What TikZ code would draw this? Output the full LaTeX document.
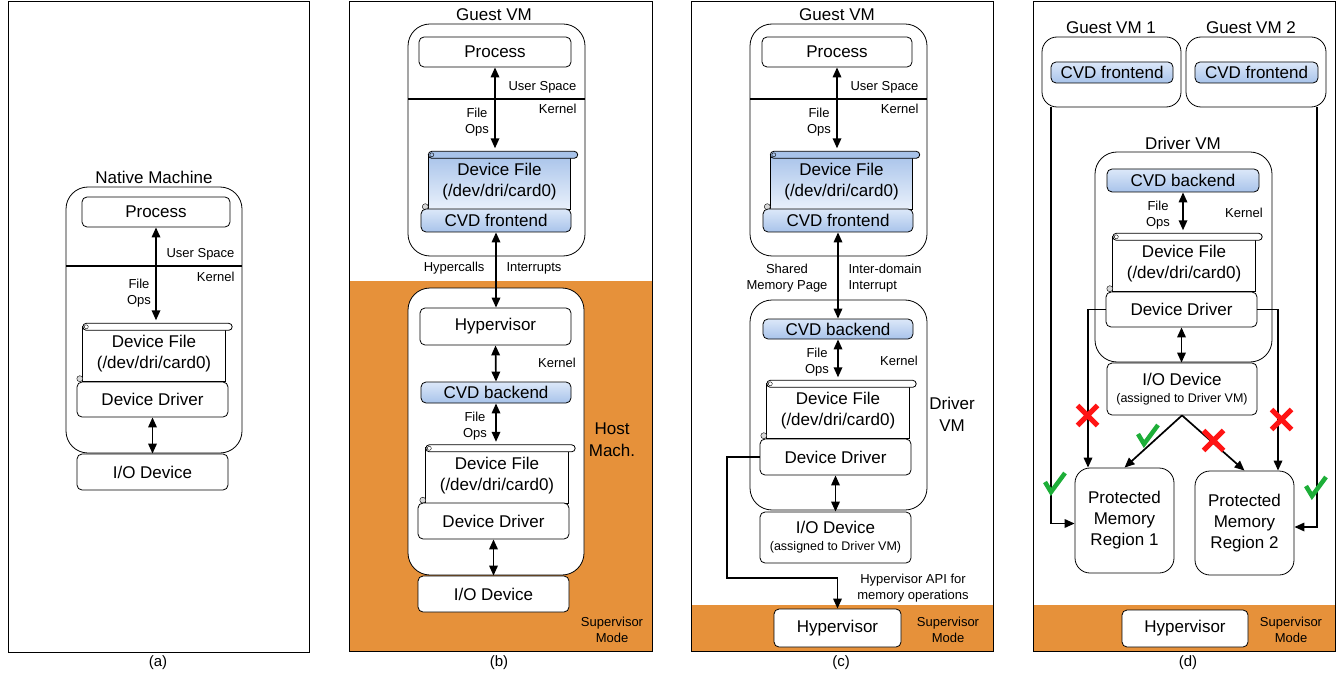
\documentclass[tikz,border=0pt]{standalone}
\usepackage{fontspec}
\setmainfont{Liberation Sans}
\usetikzlibrary{arrows.meta}
\definecolor{hostorange}{HTML}{E6913A}
\definecolor{cvdtop}{HTML}{DCE8F9}
\definecolor{cvdbot}{HTML}{A8C3EA}
\definecolor{okgreen}{HTML}{1DAE38}
\definecolor{nored}{HTML}{FF1414}

\tikzset{
  panel/.style={draw, line width=0.8pt},
  vmbox/.style={draw, fill=white, rounded corners=22pt, inner sep=0pt, line width=0.8pt},
  box/.style={draw, fill=white, rounded corners=5pt, inner sep=0pt, line width=0.8pt, align=center, font=\fontsize{17}{21}\selectfont},
  cvdbox/.style={box, top color=cvdtop, bottom color=cvdbot},
  filebody/.style={minimum width=142pt, minimum height=55pt, inner sep=0pt},
  txt/.style={align=center, font=\fontsize{17}{21}\selectfont},
  small/.style={align=center, font=\fontsize{13}{16}\selectfont},
  biarrow/.style={line width=1.7pt, {Triangle[length=10pt,width=8.5pt]}-{Triangle[length=10pt,width=8.5pt]}},
  conn/.style={line width=1.7pt, -{Triangle[length=10pt,width=8.5pt]}},
}

% scroll shaped device file: name, position, body fill, bar fill
\newcommand{\devfile}[4]{%
  \node[filebody] (#1) at #2 {};
  \draw[line width=0.8pt, #3] (#1.north west) rectangle (#1.south east);
  \draw[line width=0.8pt, #4, rounded corners=3.5pt] ([yshift=3pt]#1.north west) rectangle ([xshift=7pt,yshift=-4pt]#1.north east);
  \draw ([xshift=3.5pt,yshift=-0.5pt]#1.north west) circle (2pt);
  \draw[fill=gray!30] ([xshift=-3pt,yshift=3pt]#1.south west) circle (3pt);
  \node[txt] (#1txt) at (#1) {Device File\\(/dev/dri/card0)};
}
\newcommand{\okmark}[1]{\draw[okgreen, line width=4.5pt, shift={#1}] (-9,-2) -- (-3,8) -- (11,-11);}
\newcommand{\nomark}[1]{\draw[nored, line width=5pt, shift={#1}] (-10,-10) -- (10,10) (-10,10) -- (10,-10);}

\begin{document}
\begin{tikzpicture}[x=1pt, y=-1pt]
  \useasboundingbox (0,0) rectangle (1340,676);

  % (a) native machine
  \draw[panel] (8,1) rectangle (309,652);
  \node[txt] (anative) at (154,177) {Native Machine};
  \node[vmbox, minimum width=176pt, minimum height=266pt] (avm) at (154,320) {};
  \node[box, minimum width=148pt, minimum height=30pt] (aproc) at (156,212) {Process};
  \draw[line width=1.5pt] (66,266) -- (242,266);
  \node[small, anchor=east] (auser) at (238,254) {User Space};
  \node[small, anchor=east] (akern) at (238,277) {Kernel};
  \devfile{afile}{(154,354)}{fill=white}{fill=white}
  \node[box, minimum width=151pt, minimum height=35pt] (adrv) at (152.5,399.5) {Device Driver};
  \node[box, minimum width=151pt, minimum height=36pt] (aio) at (152.5,472) {I/O Device};
  \draw[biarrow] (aproc.south) -- ([yshift=6pt]aproc.south |- afile.north);
  \node[small] (aops) at (139,293) {File\\Ops};
  \draw[biarrow] (adrv.south) -- (aio.north);
  \node[small, font=\fontsize{15}{18}\selectfont] (acap) at (158,663) {(a)};

  % (b) host machine
  \fill[hostorange] (349,281) rectangle (652,651);
  \draw[panel] (349,1) rectangle (652,651);
  \node[txt] (bguest) at (494,15) {Guest VM};
  \node[vmbox, minimum width=177pt, minimum height=232pt] (bvm) at (496.5,140) {};
  \node[box, minimum width=152pt, minimum height=30pt] (bproc) at (495,52) {Process};
  \draw[line width=1.5pt] (408,99) -- (585,99);
  \node[small, anchor=east] (buser) at (580,87) {User Space};
  \node[small, anchor=east] (bkern) at (580,109) {Kernel};
  \devfile{bfile}{(499.5,182)}{top color=cvdbot, bottom color=cvdtop!60!white}{fill=cvdbot}
  \node[cvdbox, minimum width=150pt, minimum height=23pt] (bfront) at (496,220.5) {CVD frontend};
  \draw[biarrow] (bproc.south) -- ([yshift=6pt]bproc.south |- bfile.north);
  \node[small] (bops) at (477,122) {File\\Ops};
  \node[vmbox, minimum width=176pt, minimum height=287pt] (bhost) at (496,431.5) {};
  \node[box, minimum width=151pt, minimum height=37pt] (bhyp) at (495.5,326.5) {Hypervisor};
  \draw[biarrow] (bfront.south) -- (bfront.south |- bhyp.north);
  \node[small, anchor=east] (bcalls) at (488,268) {Hypercalls};
  \node[small, anchor=west] (bints) at (503,268) {Interrupts};
  \node[cvdbox, minimum width=150pt, minimum height=21pt] (bback) at (496,392.5) {CVD backend};
  \draw[biarrow] (bhyp.south) -- (bback.north);
  \node[small] (bkern2) at (557,363) {Kernel};
  \devfile{bfile2}{(497,475.5)}{fill=white}{fill=white}
  \draw[biarrow] (bback.south) -- ([yshift=6pt]bback.south |- bfile2.north);
  \node[small] (bops2) at (475,426) {File\\Ops};
  \node[box, minimum width=151pt, minimum height=36pt] (bdrv) at (493.5,521) {Device Driver};
  \node[box, minimum width=151pt, minimum height=36pt] (bio) at (493.5,594) {I/O Device};
  \draw[biarrow] (bdrv.south) -- (bio.north);
  \node[txt, font=\fontsize{17}{22}\selectfont] (bmach) at (612,440) {Host\\Mach.};
  \node[small, font=\fontsize{13}{15.5}\selectfont] (bsup) at (612,630) {Supervisor\\Mode};
  \node[small, font=\fontsize{15}{18}\selectfont] (bcap) at (499,663) {(b)};

  % (c) driver VM
  \fill[hostorange] (691,605) rectangle (993,651);
  \draw[panel] (691,1) rectangle (993,651);
  \node[txt] (cguest) at (837,15) {Guest VM};
  \node[vmbox, minimum width=177pt, minimum height=232pt] (cvm) at (838.5,140) {};
  \node[box, minimum width=150pt, minimum height=30pt] (cproc) at (837,52) {Process};
  \draw[line width=1.5pt] (750,99) -- (927,99);
  \node[small, anchor=east] (cuser) at (922,87) {User Space};
  \node[small, anchor=east] (ckern) at (922,109) {Kernel};
  \devfile{cfile}{(841.5,182)}{top color=cvdbot, bottom color=cvdtop!60!white}{fill=cvdbot}
  \node[cvdbox, minimum width=150pt, minimum height=23pt] (cfront) at (838,220.5) {CVD frontend};
  \draw[biarrow] (cproc.south) -- ([yshift=6pt]cproc.south |- cfile.north);
  \node[small] (cops) at (819,122) {File\\Ops};
  \node[vmbox, minimum width=177pt, minimum height=210pt] (cdvm) at (838.5,405) {};
  \node[cvdbox, minimum width=150pt, minimum height=20pt] (cback) at (838,329) {CVD backend};
  \draw[biarrow] (cfront.south) -- (cfront.south |- cback.north);
  \node[small, anchor=east] (cshared) at (831,278) {Shared\\Memory Page};
  \node[small, anchor=west, align=left] (cinter) at (845,278) {Inter-domain\\Interrupt};
  \node[small] (ckern2) at (899,361) {Kernel};
  \devfile{cfile2}{(838,411)}{fill=white}{fill=white}
  \draw[biarrow] (cback.south) -- ([yshift=6pt]cback.south |- cfile2.north);
  \node[small] (cops2) at (817,362) {File\\Ops};
  \node[txt, font=\fontsize{17}{22}\selectfont] (cdrvvm) at (952,414) {Driver\\VM};
  \node[box, minimum width=151pt, minimum height=36pt] (cdrv) at (835.5,457) {Device Driver};
  \node[box, minimum width=151pt, minimum height=51pt] (cio) at (835.5,537.5) {I/O Device\\[-4pt]{\fontsize{12.5}{14}\selectfont (assigned to Driver VM)}};
  \draw[biarrow] (cdrv.south) -- (cdrv.south |- cio.north);
  \node[box, minimum width=127pt, minimum height=38pt] (chyp) at (837.5,628) {Hypervisor};
  \coordinate (capi) at (727,578);
  \draw[conn] (cdrv.west) -| (capi) -| (chyp.north);
  \node[small] (capitxt) at (913,588) {Hypervisor API for\\memory operations};
  \node[small, font=\fontsize{13}{15.5}\selectfont] (csup) at (948,630) {Supervisor\\Mode};
  \node[small, font=\fontsize{15}{18}\selectfont] (ccap) at (841,663) {(c)};

  % (d) protected memory
  \fill[hostorange] (1033,605) rectangle (1335,651);
  \draw[panel] (1033,1) rectangle (1335,651);
  \node[txt] (dguest1) at (1111,28) {Guest VM 1};
  \node[txt] (dguest2) at (1251,28) {Guest VM 2};
  \node[vmbox, rounded corners=15pt, minimum width=139pt, minimum height=70pt] (dg1) at (1111.5,72) {};
  \node[vmbox, rounded corners=15pt, minimum width=140pt, minimum height=70pt] (dg2) at (1256,72) {};
  \node[cvdbox, minimum width=122pt, minimum height=21pt] (dfront1) at (1112,72.5) {CVD frontend};
  \node[cvdbox, minimum width=123pt, minimum height=21pt] (dfront2) at (1256.5,72.5) {CVD frontend};
  \node[txt] (ddrvvm) at (1183,143) {Driver VM};
  \node[vmbox, minimum width=177pt, minimum height=210pt] (ddvm) at (1183.5,257) {};
  \node[cvdbox, minimum width=152pt, minimum height=23pt] (dback) at (1183,180.5) {CVD backend};
  \node[small] (dops) at (1158,215) {File\\Ops};
  \node[small] (dkern) at (1244,213) {Kernel};
  \devfile{dfile}{(1184,264)}{fill=white}{fill=white}
  \draw[biarrow] (dback.south) -- ([yshift=6pt]dback.south |- dfile.north);
  \node[box, minimum width=151pt, minimum height=35pt] (ddrv) at (1181.5,309.5) {Device Driver};
  \node[box, minimum width=150pt, minimum height=52pt] (dio) at (1182,389) {I/O Device\\[-4pt]{\fontsize{12.5}{14}\selectfont (assigned to Driver VM)}};
  \draw[biarrow] (ddrv.south) -- (ddrv.south |- dio.north);
  \node[box, rounded corners=15pt, minimum width=99pt, minimum height=105pt] (dmem1) at (1124.5,520.5) {Protected\\Memory\\Region 1};
  \node[box, rounded corners=15pt, minimum width=99pt, minimum height=104pt] (dmem2) at (1244.5,523) {Protected\\Memory\\Region 2};
  \draw[conn] (ddrv.west) -| ([xshift=-36.5pt]dmem1.north);
  \draw[conn] (ddrv.east) -| ([xshift=33.5pt]dmem2.north);
  \draw[conn] ([xshift=-60.5pt]dg1.south) |- ([yshift=-3pt]dmem1.west);
  \draw[conn] ([xshift=61pt]dg2.south) |- ([yshift=-4pt]dmem2.east);
  \draw[conn] (dio.south) -- (dmem1.north);
  \draw[conn] (dio.south) -- (dmem2.north);
  \okmark{(1147,436)}
  \okmark{(1054,484)}
  \okmark{(1315,488)}
  \nomark{(1087.5,415.5)}
  \nomark{(1213.5,440.5)}
  \nomark{(1281.5,419.5)}
  \node[box, minimum width=126pt, minimum height=37pt] (dhyp) at (1185,628.5) {Hypervisor};
  \node[small, font=\fontsize{13}{15.5}\selectfont] (dsup) at (1291,630) {Supervisor\\Mode};
  \node[small, font=\fontsize{15}{18}\selectfont] (dcap) at (1188,663) {(d)};
\end{tikzpicture}
\end{document}
